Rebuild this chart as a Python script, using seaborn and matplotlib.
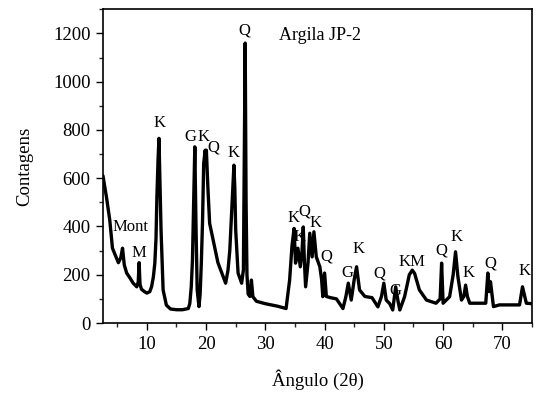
import matplotlib
matplotlib.use("Agg")
import matplotlib.pyplot as plt
import seaborn as sns
import pandas as pd
from matplotlib.ticker import MultipleLocator

angle = [2.6, 3.2, 3.75, 4.2, 4.7, 5.2, 5.6, 5.9, 6.2, 6.6, 7.2, 7.7, 8.3, 8.55, 8.7, 8.85,
         9.1, 9.6, 10.0, 10.5, 10.8, 11.1, 11.35, 11.55, 11.7, 11.9, 12.05, 12.2, 12.4, 12.75,
         13.3, 14.0, 15.0, 16.0, 17.0, 17.25, 17.5, 17.7, 17.9, 18.1, 18.3, 18.5, 18.8, 19.0,
         19.2, 19.4, 19.6, 19.85, 19.95, 20.05, 20.3, 20.6, 21.2, 22.0, 22.9, 23.3, 23.7, 24.0,
         24.3, 24.5, 24.7, 24.85, 25.0, 25.4, 26.0, 26.3, 26.45, 26.6, 26.75, 26.9, 27.1, 27.4,
         27.65, 27.9, 28.5, 30.0, 32.0, 33.5, 34.1, 34.5, 34.85, 35.1, 35.3, 35.5, 35.9, 36.2,
         36.4, 36.6, 36.8, 37.2, 37.5, 37.9, 38.2, 38.6, 39.2, 39.5, 39.7, 40.0, 40.3, 41.0,
         42.0, 43.1, 43.6, 44.0, 44.5, 45.0, 45.4, 45.9, 46.8, 48.0, 49.0, 49.6, 50.0, 50.4,
         51.0, 51.5, 52.0, 52.4, 52.7, 53.5, 54.3, 54.8, 55.2, 56.0, 57.2, 58.8, 59.5, 59.75,
         60.0, 61.1, 61.7, 62.1, 62.5, 63.1, 63.5, 63.8, 64.1, 64.5, 65.6, 67.2, 67.55, 67.8,
         68.0, 68.5, 69.5, 71.0, 72.9, 73.4, 74.05, 75.0]
counts = [610, 520, 426, 310, 280, 250, 270, 310, 240, 207, 185, 165, 150, 170, 250, 160,
          140, 130, 124, 130, 150, 190, 248, 350, 522, 680, 765, 600, 385, 137,
          74, 58, 55, 55, 60, 80, 150, 260, 500, 730, 400, 137, 68, 120,
          250, 420, 662, 716, 680, 716, 564, 413, 343, 250, 192, 165, 219, 300,
          455, 560, 654, 560, 385, 207, 165, 220, 700, 1160, 500, 200, 120, 110,
          178, 109, 90, 80, 70, 60, 178, 320, 392, 248, 280, 310, 233, 300,
          398, 250, 150, 248, 372, 274, 378, 274, 233, 180, 109, 207, 110, 105,
          100, 60, 110, 165, 95, 180, 233, 137, 110, 105, 67, 110, 165, 95,
          80, 54, 150, 90, 54, 109, 200, 219, 205, 137, 95, 82, 100, 248,
          82, 109, 200, 295, 192, 95, 110, 157, 110, 82, 82, 82, 207, 130,
          171, 68, 75, 75, 75, 150, 82, 80]

peak_labels = ["Q", "K", "G", "K", "Q", "K", "K", "K", "Q", "K", "Q", "G", "K", "Q", "G",
               "KM", "Q", "K", "K", "Q", "K", "Mont", "M"]
label_x = [26.5, 12.2, 17.4, 19.6, 21.3, 24.7, 34.8, 35.8, 36.6, 38.45, 40.3, 43.85, 45.75,
           49.2, 52.0, 54.75, 59.7, 62.2, 64.3, 68.0, 73.75, 7.25, 8.7]
label_y = [1212, 827, 770, 770, 728, 703, 437, 355, 460, 415, 277, 206, 305,
           206, 132, 251, 299, 357, 206, 247, 215, 396, 291]

sns.set_style("ticks")
plt.rcParams['font.family'] = ['Liberation Serif', 'DejaVu Serif']

fig = plt.figure(figsize=(5.38, 3.94), dpi=100)
ax = fig.add_axes([0.1914, 0.1802, 0.7974, 0.7962])

df = pd.DataFrame({"angle": angle, "counts": counts})
sns.lineplot(data=df, x="angle", y="counts", ax=ax, color="black", linewidth=2.4,
             estimator=None, sort=False)

for t, x, y in zip(peak_labels, label_x, label_y):
    ax.text(x, y, t, ha="center", va="center", fontsize=12, color="black")
ax.text(32.3, 1190, "Argila JP-2", ha="left", va="center", fontsize=13, color="black")

ax.set_xlim(2.6, 75)
ax.set_ylim(0, 1300)
ax.xaxis.set_major_locator(MultipleLocator(10))
ax.xaxis.set_minor_locator(MultipleLocator(5))
ax.yaxis.set_major_locator(MultipleLocator(200))
ax.yaxis.set_minor_locator(MultipleLocator(100))
ax.tick_params(axis="both", which="major", direction="out", length=5, width=1,
               labelsize=13.5, colors="black", pad=4)
ax.tick_params(axis="both", which="minor", direction="out", length=3, width=1)
ax.set_yticks([0, 200, 400, 600, 800, 1000, 1200])
for s in ax.spines.values():
    s.set_visible(True)
    s.set_color("black")
    s.set_linewidth(1.2)

ax.set_xlabel("Ângulo (2θ)", fontsize=13.5, color="black", labelpad=12)
ax.set_ylabel("Contagens", fontsize=13.5, color="black", labelpad=14)

fig.savefig("out.png", dpi=100)
